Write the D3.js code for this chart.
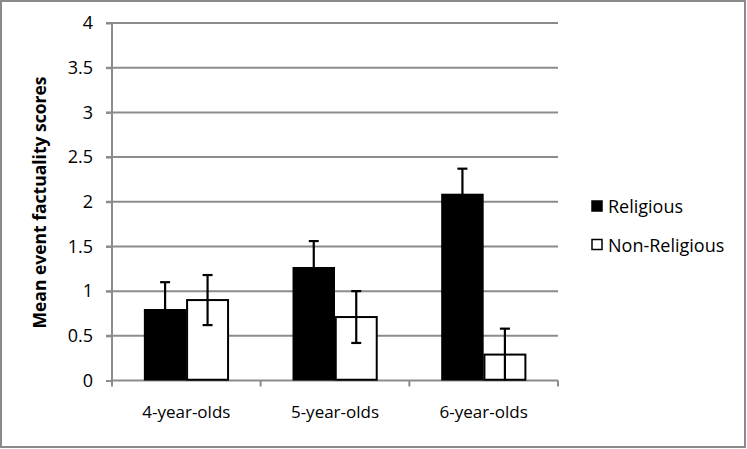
<!DOCTYPE html>
<html><head><meta charset="utf-8">
<script src="https://cdn.jsdelivr.net/npm/d3@7"></script>
<style>body{margin:0;background:#fff}svg{display:block}</style>
</head><body>
<script>
const categories = ["4-year-olds", "5-year-olds", "6-year-olds"];
const seriesNames = ["Religious", "Non-Religious"];
const religious = [0.80, 1.27, 2.09];
const nonReligious = [0.90, 0.71, 0.29];
const religiousErr = [0.30, 0.29, 0.28];
const nonReligiousErr = [0.28, 0.29, 0.29];
const yTicks = [0, 0.5, 1, 1.5, 2, 2.5, 3, 3.5, 4];
const yTickLabels = ["0", "0.5", "1", "1.5", "2", "2.5", "3", "3.5", "4"];

(function () {
const W = 747, H = 449;
const font = "'Open Sans', 'Noto Sans', sans-serif";
const svg = d3.select("body").append("svg").attr("width", W).attr("height", H);
svg.append("rect").attr("x", 1).attr("y", 1).attr("width", 744).attr("height", 446)
  .attr("fill", "#fff").attr("stroke", "#8a8a8a").attr("stroke-width", 2);

const pLeft = 112, pRight = 558, pTop = 23, pBottom = 380.5;
const x = d3.scaleBand().domain(categories).range([pLeft, pRight]).paddingInner(0).paddingOuter(0);
const y = d3.scaleLinear().domain([0, 4]).range([pBottom, pTop]);

// gridlines
svg.append("g").selectAll("line").data(yTicks.filter(d => d > 0)).join("line")
  .attr("x1", pLeft - 6).attr("x2", pRight).attr("y1", d => y(d)).attr("y2", d => y(d))
  .attr("stroke", "#8c8c8c").attr("stroke-width", 2);

// y axis
const yAxis = d3.axisLeft(y).tickValues(yTicks).tickFormat((d, i) => yTickLabels[i]).tickSize(6).tickPadding(13);
const gy = svg.append("g").attr("transform", `translate(${pLeft},0)`).call(yAxis);
gy.select(".domain").attr("stroke", "#8c8c8c").attr("stroke-width", 2).attr("d", `M0,${pTop}V${pBottom + 6}`);
gy.selectAll(".tick line").attr("stroke", "#8c8c8c").attr("stroke-width", 2);
gy.selectAll(".tick text").attr("font-family", font).attr("font-size", 18).attr("fill", "#000");

// x axis baseline and category ticks
const gx = svg.append("g");
gx.append("line").attr("x1", pLeft).attr("x2", pRight).attr("y1", pBottom).attr("y2", pBottom)
  .attr("stroke", "#8c8c8c").attr("stroke-width", 2);
const bounds = categories.map(c => x(c) + x.bandwidth());
gx.selectAll("line.t").data(bounds).join("line").attr("class", "t")
  .attr("x1", d => d).attr("x2", d => d).attr("y1", pBottom).attr("y2", pBottom + 6)
  .attr("stroke", "#8c8c8c").attr("stroke-width", 2);
gx.selectAll("text").data(categories).join("text")
  .attr("x", d => x(d) + x.bandwidth() / 2).attr("y", 418)
  .attr("text-anchor", "middle").attr("font-family", font).attr("font-size", 17).text(d => d);

// bars
const barW = x.bandwidth() / (2 + 1.5);
const inner = d3.scaleBand().domain(seriesNames).range([0, 2 * barW]);
const data = [];
categories.forEach((c, i) => {
  data.push({c, s: seriesNames[0], v: religious[i], e: religiousErr[i]});
  data.push({c, s: seriesNames[1], v: nonReligious[i], e: nonReligiousErr[i]});
});
const offset = (x.bandwidth() - 2 * barW) / 2;
const bx = d => x(d.c) + offset + inner(d.s);
svg.append("g").selectAll("rect").data(data).join("rect")
  .attr("x", d => bx(d) + (d.s === seriesNames[1] ? 0.75 : 0))
  .attr("y", d => y(d.v))
  .attr("width", d => inner.bandwidth() - (d.s === seriesNames[1] ? 1.5 : 0))
  .attr("height", d => y(0) - y(d.v) - (d.s === seriesNames[1] ? 0.75 : 0))
  .attr("fill", d => d.s === seriesNames[0] ? "#000" : "#fff")
  .attr("stroke", d => d.s === seriesNames[0] ? "none" : "#000").attr("stroke-width", 2);

// error bars
const eg = svg.append("g").attr("stroke", "#000").attr("stroke-width", 2.2);
data.forEach(d => {
  const cx = bx(d) + inner.bandwidth() / 2;
  const lo = Math.max(0, d.v - d.e), hi = d.v + d.e;
  eg.append("line").attr("x1", cx).attr("x2", cx).attr("y1", y(lo)).attr("y2", y(hi));
  eg.append("line").attr("x1", cx - 5).attr("x2", cx + 5).attr("y1", y(hi)).attr("y2", y(hi));
  if (d.v - d.e > 0.02)
    eg.append("line").attr("x1", cx - 5).attr("x2", cx + 5).attr("y1", y(lo)).attr("y2", y(lo));
});

// y title
svg.append("text").attr("transform", `translate(46,202.5) rotate(-90)`)
  .attr("text-anchor", "middle").attr("font-family", font).attr("font-size", 17.5).attr("font-weight", "bold")
  .text("Mean event factuality scores");

// legend
const lg = svg.append("g");
seriesNames.forEach((s, i) => {
  const yy = 206 + i * 38.5;
  lg.append("rect").attr("x", 592).attr("y", yy - 5).attr("width", 10).attr("height", 10)
    .attr("fill", i === 0 ? "#000" : "#fff").attr("stroke", "#000").attr("stroke-width", 1.5);
  lg.append("text").attr("x", 608).attr("y", yy + 7).attr("font-family", font).attr("font-size", 18).text(s);
});
})();
</script>
</body></html>
